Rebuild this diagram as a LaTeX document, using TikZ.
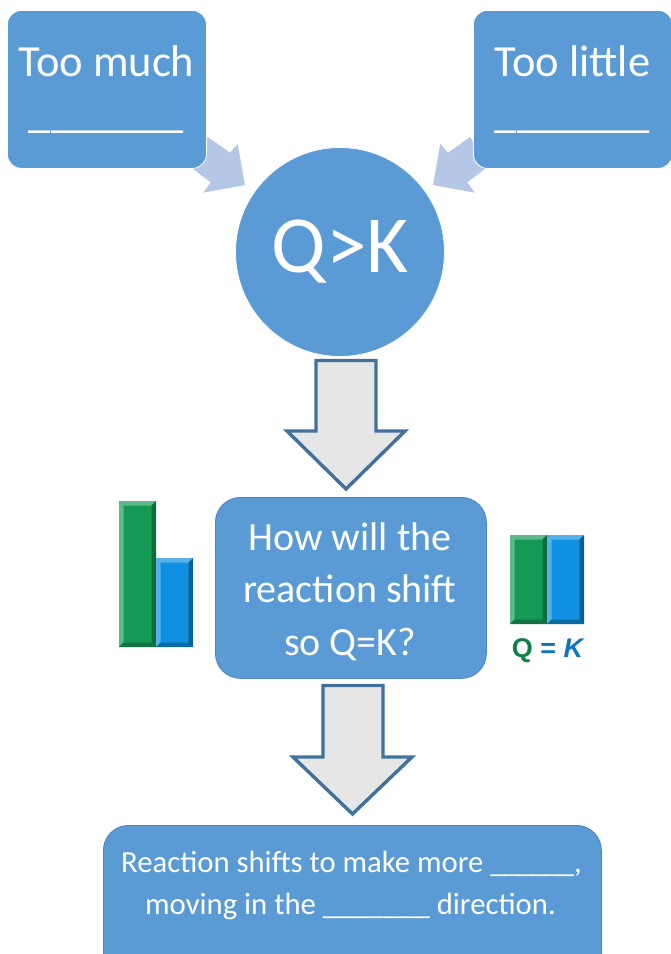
\documentclass[tikz,border=0pt]{standalone}
\usepackage{fontspec}
\setmainfont{Carlito}
\newfontfamily\arialf{Liberation Sans}
\usetikzlibrary{calc}
\definecolor{boxblue}{HTML}{5B9BD5}
\definecolor{boxedge}{HTML}{4F85B8}
\definecolor{lightarrow}{HTML}{B4C7E7}
\definecolor{greyfill}{HTML}{E7E6E6}
\definecolor{greyedge}{HTML}{41719C}
\definecolor{gmid}{HTML}{149A55}
\definecolor{glight}{HTML}{5DB98A}
\definecolor{gdark}{HTML}{0E6B3C}
\definecolor{bmid}{HTML}{1090E0}
\definecolor{blight}{HTML}{58B2EA}
\definecolor{bdark}{HTML}{0A5F94}
\definecolor{qgreen}{HTML}{0E8048}
\definecolor{kblue}{HTML}{0F75BC}
\tikzset{
  box/.style={draw=boxedge,line width=0.8pt,fill=boxblue,text=white,align=center,inner sep=0pt},
  hint/.style={fill=lightarrow,draw=none},
  downarrow/.style={fill=greyfill,draw=greyedge,line width=3.4pt,line join=miter},
  bigtext/.style={text=white,font=\fontsize{44.5}{44.5}\selectfont,anchor=base},
  midtext/.style={text=white,font=\fontsize{40}{40}\selectfont,anchor=base},
  smalltext/.style={text=white,font=\fontsize{30.7}{30.7}\selectfont,anchor=base}
}
\newcommand{\mybar}[7]{%
  \fill[#5] (#1,#3) rectangle (#2,#4);
  \fill[#6] (#1,#3) -- (#2,#3) -- (#2-4.5,#3+4.5) -- (#1+4.5,#3+4.5) -- cycle;
  \fill[#6] (#1,#3) -- (#1+4.5,#3+4.5) -- (#1+4.5,#4-4.5) -- (#1,#4) -- cycle;
  \fill[#7] (#2,#3) -- (#2-4.5,#3+4.5) -- (#2-4.5,#4-4.5) -- (#2,#4) -- cycle;
  \fill[#7!80!#5] (#1,#4) -- (#1+4.5,#4-4.5) -- (#2-4.5,#4-4.5) -- (#2,#4) -- cycle;
}
\newcommand{\us}{\_\kern-1.6pt}
\begin{document}
\begin{tikzpicture}[x=1pt,y=-1pt]
\useasboundingbox (0,0) rectangle (671,954);
\clip (0,0) rectangle (671,954);
% small pale arrows
\fill[hint] (207.7,137) -- (230,152.7) -- (237.7,144) -- (245,185) -- (203.3,192.7) -- (210.7,182.3) -- (191.7,168) -- cycle;
\fill[hint] (470.3,137) -- (448,152.7) -- (440.3,144) -- (433,185) -- (474.7,192.7) -- (467.3,182.3) -- (486.3,168) -- cycle;
% top boxes
\node[box,minimum width=199pt,minimum height=158pt,rounded corners=14pt,anchor=north west,draw=white] (much) at (7,10) {};
\node[box,minimum width=199pt,minimum height=158pt,rounded corners=14pt,anchor=north west,draw=white] (little) at (473,10) {};
\node[bigtext] (mucht) at (106.5,76) {Too much};
\node[bigtext] (littlet) at (572.5,76) {Too little};
\node[bigtext] (muchb) at (106.5,127) {\_\_\_\_\_\_\_};
\node[bigtext] (littleb) at (572.5,127) {\_\_\_\_\_\_\_};
% circle
\node[circle,fill=boxblue,draw=white,line width=0.8pt,minimum size=209pt,inner sep=0pt,text=white,font=\fontsize{81}{81}\selectfont] (q) at (340,252) {Q>K};
% grey arrows
\draw[downarrow] (316,360.5) -- (376,360.5) -- (376,431) -- (405,431) -- (346,489) -- (287,431) -- (316,431) -- cycle;
\draw[downarrow] (323,685.5) -- (383,685.5) -- (383,757) -- (412,757) -- (352.5,814) -- (293,757) -- (323,757) -- cycle;
% middle box
\node[box,minimum width=271pt,minimum height=181pt,rounded corners=25pt,anchor=north west] (how) at (215,497) {};
\node[midtext] (h1) at (350,550) {How will the};
\node[midtext] (h2) at (350,602) {reaction shift};
\node[midtext] (h3) at (350,655) {so Q=K?};
% bottom box
\node[box,minimum width=498pt,minimum height=160pt,rounded corners=25pt,anchor=north west] (res) at (103,825) {};
\node[smalltext] (r1) at (351.5,872) {Reaction shifts to make more \us\us\us\us\us\_,};
\node[smalltext] (r2) at (350.5,914) {moving in the \_\_\_\_\_\_\_ direction.};
% bars
\mybar{119}{156}{501}{647}{gmid}{glight}{gdark}
\mybar{156}{193}{558}{647}{bmid}{blight}{bdark}
\mybar{510}{547}{535}{624}{gmid}{glight}{gdark}
\mybar{547}{584}{535}{624}{bmid}{blight}{bdark}
\node[anchor=base,font=\arialf\bfseries\fontsize{27}{27}\selectfont] (qk) at (547.5,657) {\textcolor{qgreen}{Q} \textcolor{kblue}{=} \textcolor{kblue}{\itshape K}};
\end{tikzpicture}
\end{document}
